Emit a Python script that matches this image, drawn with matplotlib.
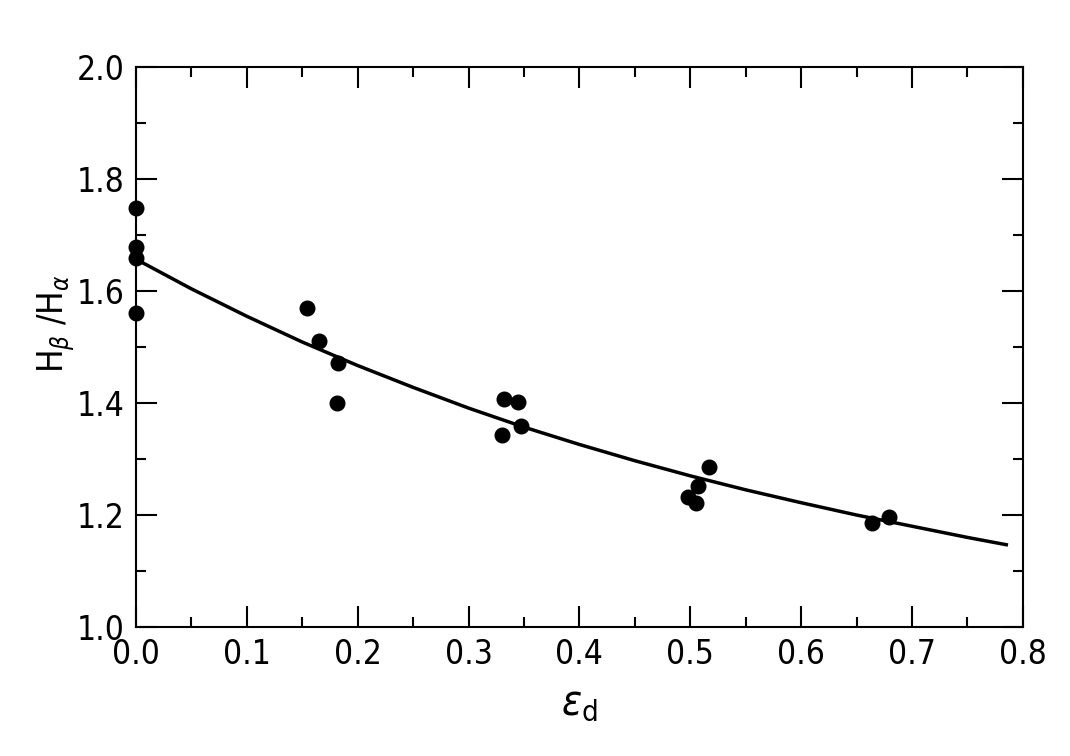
import numpy as np
import matplotlib
matplotlib.use("Agg")
import matplotlib.pyplot as plt
from matplotlib.ticker import MultipleLocator

plt.rcParams['font.family'] = ['DejaVu Sans']
plt.rcParams['font.stretch'] = 'condensed'
plt.rcParams['mathtext.fontset'] = 'dejavusans'

# measured points
eps_d = [0.0, 0.0, 0.0, 0.0,
         0.154, 0.165, 0.182, 0.181,
         0.332, 0.345, 0.347, 0.330,
         0.517, 0.507, 0.498, 0.505,
         0.664, 0.679]
ratio = [1.748, 1.679, 1.659, 1.561,
         1.570, 1.511, 1.471, 1.400,
         1.407, 1.402, 1.359, 1.343,
         1.286, 1.252, 1.232, 1.221,
         1.186, 1.196]

# fitted curve
curve_x = [0.0, 0.05, 0.10, 0.15, 0.20, 0.25, 0.30, 0.35, 0.40,
           0.45, 0.50, 0.55, 0.60, 0.65, 0.70, 0.75, 0.785]
curve_y = [1.657, 1.604, 1.555, 1.509, 1.467, 1.428, 1.391, 1.357, 1.326,
           1.297, 1.270, 1.245, 1.222, 1.200, 1.180, 1.160, 1.147]

fig = plt.figure(figsize=(10.7, 7.56), dpi=100)
ax = fig.add_axes([0.127, 0.1706, 0.829, 0.7407])

ax.plot(curve_x, curve_y, color='black', lw=2.5, zorder=2)
ax.plot(eps_d, ratio, 'o', color='black', ms=10.5, clip_on=False, zorder=3)

ax.set_xlim(0, 0.8)
ax.set_ylim(1.0, 2.0)
ax.xaxis.set_major_locator(MultipleLocator(0.1))
ax.xaxis.set_minor_locator(MultipleLocator(0.05))
ax.yaxis.set_major_locator(MultipleLocator(0.2))
ax.yaxis.set_minor_locator(MultipleLocator(0.1))
ax.xaxis.set_major_formatter(plt.FuncFormatter(lambda v, p: '%.1f' % v))
ax.yaxis.set_major_formatter(plt.FuncFormatter(lambda v, p: '%.1f' % v))

ax.tick_params(which='both', direction='in', top=True, right=True,
               width=1.5, labelsize=24)
ax.tick_params(which='major', length=15, pad=8)
ax.tick_params(which='minor', length=7)
for s in ax.spines.values():
    s.set_linewidth(1.5)

ax.set_xlabel(r'$\varepsilon_\mathrm{d}$', fontsize=30, labelpad=8)
ax.set_ylabel(r'H$_\beta$ /H$_\alpha$', fontsize=25)
ax.yaxis.set_label_coords(-0.066, 0.541)

fig.savefig('out.png', dpi=100)
